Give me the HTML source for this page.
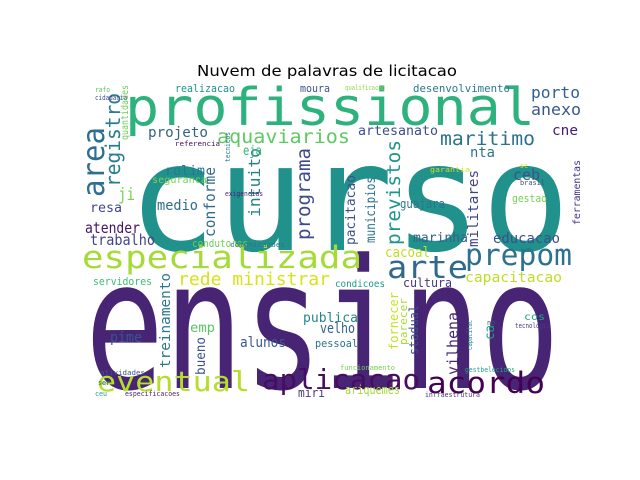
<!DOCTYPE html>
<html><head><meta charset="utf-8"><style>
html,body{margin:0;padding:0;background:#fff;}
svg{display:block;}
text{font-family:"DejaVu Sans Mono","Liberation Mono",monospace;}
</style></head><body>
<svg id="cloud" width="640" height="480" viewBox="0 0 640 480" xmlns="http://www.w3.org/2000/svg">
<rect x="0" y="0" width="640" height="480" fill="#ffffff"/>
<text x="327" y="76" text-anchor="middle" font-size="15.5" textLength="260" lengthAdjust="spacingAndGlyphs" style="font-family:'DejaVu Sans','Liberation Sans',sans-serif" fill="#000">Nuvem de palavras de licitacao</text>
<g id="words"></g>
</svg>
<script>
// word, x, baseline y, font size, text length, colour, rotated
const words = ["curso","ensino","profissional","especializada","arte","prepom","acordo","aplicacao","eventual","area","registro","programa","conforme","intuito","aquaviarios","projeto","realizacao","moura","eja","rolim","seguranca","ji","medio","resa","atender","trabalho","condutores","servidores","rede ministrar","treinamento","emp","pime","bueno","alunos","publica","velho","pessoal","miri","ariquemes","cacoal","capacitacao","condicoes","cultura","fornecer","parecer","stadual","vilhena","ca","cos","maritimo","artesanato","nta","porto","anexo","cne","desenvolvimento","qualificacao","ceb","gestao","previstos","municipios","pacitacao","guajara","marinha","militares","educacao","ferramentas","quantidades","garantia","brasil","tecnologia","infraestrutura","funcionamento","especificacoes","atividades","comunicacoes","referencia","capacitac","nb","ser","ceu","sc","gestbelecidos","exigencias","tecnicos","rafo","cidadania"];
const wx = [128,85,125,82,387,465,427,262,97,104,120,310,215,260,217,148,175,300,243,165,152,118,157,90,85,90,192,93,178,170,190,110,205,240,303,320,315,298,345,385,465,335,403,398,407,418,458,494,524,440,358,470,531,531,552,413,345,513,512,400,375,355,400,413,478,493,580,128,430,520,515,425,340,125,100,230,175,472,487,98,95,520,465,225,230,95,95];
const wy = [250,388,125,268,278,265,393,389,391,197,187,240,237,217,143,137,92,92,155,175,183,200,210,212,233,245,247,285,285,368,332,342,375,347,322,333,347,397,394,257,282,287,287,350,345,355,375,340,320,145,135,157,98,115,135,92,90,180,202,245,243,245,208,242,247,243,225,140,172,185,328,397,370,396,375,247,146,350,325,385,396,168,372,196,162,92,100];
const wsize = [150,180,52,31,31,29,29,28,28,30,20,19,15,16,19,14,11,11,13,13,10,17,14,13,15,15,11,11,18,14,13,14,13,14,13,14,11,12,12,14,14,10,12,12,11,12,15,13,10,19,13,14,16,16,14,11,7,15,11,19,13,13,12,13,14,14,10,10,7,7,7,7,7,7,7,7,7,7,7,7,7,7,7,7,7,7,7];
const wlen = [442,475,410,280,81,107,118,158,153,70,94,92,70,69,133,60,60,30,19,40,55,17,41,32,55,65,56,59,152,95,25,32,38,46,55,35,43,27,55,45,97,50,49,58,47,50,63,15,21,95,80,25,49,50,26,97,40,27,35,105,66,70,45,55,77,67,65,55,40,25,35,55,55,55,45,55,45,30,8,12,12,8,50,38,30,15,32];
const wcol = ["#21918c","#482475","#2db27d","#a5db36","#31688e","#2c728e","#440154","#470d60","#b5de2b","#2e6e8e","#287d8e","#3e4a89","#31688e","#26828e","#5ec962","#33638d","#20928c","#3b528b","#35b779","#2a768e","#7ad151","#7ad151","#2e6f8e","#3f4788","#471365","#414487","#6ece58","#3dbc74","#d8e219","#2a778e","#58c765","#39568c","#3b528b","#38598c","#25858e","#33638d","#2d708e","#443983","#a0da39","#c2df23","#bddf26","#1e9b8a","#453781","#cae11f","#a8db34","#3b528b","#482677","#1fa088","#22a884","#2c728e","#3d4e8a","#2b748e","#34608d","#39558c","#481a6c","#2a788e","#8fd744","#3b528b","#73d056","#1f968b","#2c718e","#3b528b","#2b758e","#34618d","#414487","#3b518b","#46337e","#6ece58","#c8e020","#3e4c8a","#453882","#46307e","#75d054","#482475","#3a548c","#2c738e","#460b5e","#24878e","#38588c","#31688e","#1fa187","#dde318","#21a685","#482173","#2a788e","#5cc863","#3f4889"];
const wrot = [0,0,0,0,0,0,0,0,0,1,1,1,1,1,0,0,0,0,0,0,0,0,0,0,0,0,0,0,0,1,0,0,1,0,0,0,0,0,0,0,0,0,0,1,1,1,1,1,0,0,0,0,0,0,0,0,0,0,0,1,1,1,0,0,1,0,1,1,0,0,0,0,0,0,0,0,0,1,0,0,0,0,0,0,1,0,0];

const g = document.getElementById('words');
const NS = 'http://www.w3.org/2000/svg';
for (let i = 0; i < words.length; i++) {
  const t = document.createElementNS(NS, 'text');
  t.setAttribute('x', wx[i]);
  t.setAttribute('y', wy[i]);
  t.setAttribute('font-size', wsize[i]);
  t.setAttribute('textLength', wlen[i]);
  t.setAttribute('lengthAdjust', 'spacingAndGlyphs');
  t.setAttribute('fill', wcol[i]);
  if (wrot[i]) t.setAttribute('transform', 'rotate(-90 ' + wx[i] + ' ' + wy[i] + ')');
  t.textContent = words[i];
  
  
  g.appendChild(t);
}
</script>
</body></html>
